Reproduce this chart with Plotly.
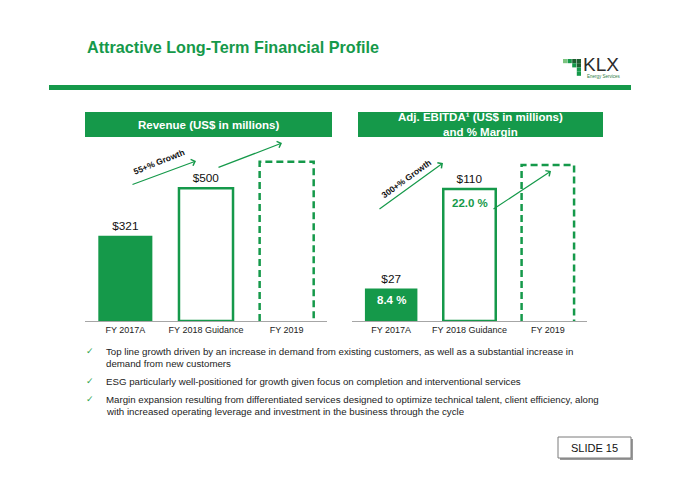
import plotly.graph_objects as go

# ---------------- data ----------------
categories = ["FY 2017A", "FY 2018 Guidance", "FY 2019"]
revenue = [321, 500]                 # US$ millions
revenue_2019_placeholder = 600       # height of dashed placeholder box
ebitda = [27, 110]                   # US$ millions
ebitda_2019_placeholder = 130        # height of dashed placeholder box
margin = [8.4, 22.0]                 # % margin
growth_labels = ["55+% Growth", "300+% Growth"]
bullets = [
    ["Top line growth driven by an increase in demand from existing customers, as well as a substantial increase in",
     "demand from new customers"],
    ["ESG particularly well-positioned for growth given focus on completion and interventional services"],
    ["Margin expansion resulting from differentiated services designed to optimize technical talent, client efficiency, along",
     "with increased operating leverage and investment in the business through the cycle"],
]

W, H = 680, 481
OFF = 8  # page body margin offset
GREEN = "#15994a"
DARK_GREEN = "#1d5e2f"
FONT = "Liberation Sans, Arial, sans-serif"


def px(x):
    return (x - OFF) / W


def py(y):
    return 1 - (y - OFF) / H


def note(x, y, text, size, color, xanchor="center", family=FONT, **kw):
    return dict(xref="paper", yref="paper", x=px(x), y=py(y), text=text, showarrow=False,
                xanchor=xanchor, yanchor="middle", font=dict(size=size, color=color, family=family), **kw)


fig = go.Figure()

bar_w = 0.67
xs = [0, 1]

# Revenue bars
fig.add_trace(go.Bar(
    x=xs, y=revenue, width=bar_w,
    marker=dict(color=[GREEN, "white"], line=dict(color=GREEN, width=[0, 2.5])),
    text=[f"${v}" for v in revenue], textposition="outside",
    textfont=dict(size=11.8, color="#111", family=FONT),
    cliponaxis=False, xaxis="x", yaxis="y", showlegend=False, hoverinfo="skip",
))
# EBITDA bars
fig.add_trace(go.Bar(
    x=xs, y=ebitda, width=bar_w,
    marker=dict(color=[GREEN, "white"], line=dict(color=GREEN, width=[0, 2.5])),
    text=[f"${v}" for v in ebitda], textposition="outside",
    textfont=dict(size=11.8, color="#111", family=FONT),
    cliponaxis=False, xaxis="x2", yaxis="y2", showlegend=False, hoverinfo="skip",
))

shapes = []
annotations = []

# dashed placeholder boxes for FY 2019 (no bottom edge)
for xref, yref, h in [("x", "y", revenue_2019_placeholder), ("x2", "y2", ebitda_2019_placeholder)]:
    x0, x1 = 2 - bar_w / 2, 2 + bar_w / 2
    shapes.append(dict(type="path", xref=xref, yref=yref,
                       path=f"M {x0},0 L {x0},{h} L {x1},{h} L {x1},0",
                       line=dict(color=GREEN, width=2.5, dash="7px,4px")))

# margin labels inside EBITDA bars
for i, m in enumerate(margin):
    annotations.append(dict(xref="x2", yref="y2", x=xs[i], y=ebitda[i], yshift=-11 if i == 0 else -14,
                            xanchor="center", yanchor="middle",
                            text=f"<b>{m:.1f} %</b>", showarrow=False,
                            font=dict(size=11.5, color="white" if i == 0 else GREEN, family=FONT)))

# header line
shapes.append(dict(type="rect", xref="paper", yref="paper", x0=px(49), x1=px(631), y0=py(90), y1=py(85),
                   fillcolor=GREEN, line=dict(width=0)))
# chart header boxes
shapes.append(dict(type="rect", xref="paper", yref="paper", x0=px(85), x1=px(332), y0=py(137), y1=py(112),
                   fillcolor=GREEN, line=dict(width=0)))
shapes.append(dict(type="rect", xref="paper", yref="paper", x0=px(358), x1=px(603), y0=py(137), y1=py(112),
                   fillcolor=GREEN, line=dict(width=0)))
annotations.append(note(208, 125, "<b>Revenue (US$ in millions)</b>", 11.5, "white"))
annotations.append(note(480, 125, "<b>Adj. EBITDA¹ (US$ in millions)<br>and % Margin</b>", 11.5, "white"))

# title
annotations.append(note(85, 47, "<b>Attractive Long-Term Financial Profile</b>", 16.2, GREEN, xanchor="left"))

# logo
logo_cells = [(0, 0, "#7cc47f"), (1, 0, GREEN), (2, 0, DARK_GREEN), (3, 0, DARK_GREEN),
              (2, 1, GREEN), (3, 1, DARK_GREEN), (3, 2, GREEN), (3, 3, GREEN)]
for c, r, col in logo_cells:
    shapes.append(dict(type="rect", xref="paper", yref="paper",
                       x0=px(563 + 4.6 * c), x1=px(567.2 + 4.6 * c), y0=py(63.2 + 4.2 * r), y1=py(59 + 4.2 * r),
                       fillcolor=col, line=dict(width=0)))
annotations.append(note(581, 64.5, "KLX", 19, "#2b2b2b", xanchor="left"))
annotations.append(note(585, 76, "Energy Services", 4.5, "#2e7d46", xanchor="left"))

# growth arrows (tail -> head, in page pixels)
arrows = [((131, 185), (196, 161)), ((217, 168), (282, 143)),
          ((378, 210), (443, 163)), ((492, 210), (551, 171))]
for (x0, y0), (x1, y1) in arrows:
    annotations.append(dict(xref="paper", yref="paper", axref="pixel", ayref="pixel",
                            x=px(x1), y=py(y1), ax=x0 - x1, ay=y0 - y1, text="",
                            showarrow=True, arrowhead=4, arrowsize=1.1, arrowwidth=1.2, arrowcolor=GREEN))
annotations.append(note(158.5, 162, f"<b>{growth_labels[0]}</b>", 8.5, "#111", textangle=-22))
annotations.append(note(406, 179, f"<b>{growth_labels[1]}</b>", 8.5, "#111", textangle=-36))

# bullets
bullet_y = [351, 381, 399]
for b, y0 in zip(bullets, bullet_y):
    annotations.append(note(90, y0, "✓", 9, "#2ea44f", family="DejaVu Sans"))
    for j, line in enumerate(b):
        annotations.append(note(104, y0 + 12 * j, line, 9.7, "#222", xanchor="left"))

# slide number box
shapes.append(dict(type="rect", xref="paper", yref="paper", x0=px(560), x1=px(633), y0=py(460), y1=py(439),
                   fillcolor="#9a9a9a", line=dict(width=0)))
shapes.append(dict(type="rect", xref="paper", yref="paper", x0=px(558), x1=px(631), y0=py(458), y1=py(437),
                   fillcolor="white", line=dict(color="#7a7a7a", width=1)))
annotations.append(note(594.5, 447.5, "SLIDE 15", 11, "#111"))

axis_common = dict(range=[-0.5, 2.5], tickvals=[0, 1, 2], ticktext=categories, showline=True,
                   linecolor="#a6a6a6", linewidth=1, showgrid=False, zeroline=False, ticks="",
                   tickfont=dict(size=9, color="#222", family=FONT), fixedrange=True)
y_dom = [py(321), py(141)]

fig.update_layout(
    width=W, height=H, autosize=False,
    margin=dict(l=0, r=0, t=0, b=0),
    paper_bgcolor="white", plot_bgcolor="white",
    xaxis=dict(domain=[px(85), px(327)], anchor="y", **axis_common),
    yaxis=dict(domain=y_dom, range=[0, 678], visible=False, fixedrange=True),
    xaxis2=dict(domain=[px(352), px(587)], anchor="y2", **axis_common),
    yaxis2=dict(domain=y_dom, range=[0, 150], visible=False, fixedrange=True),
    shapes=shapes, annotations=annotations, showlegend=False,
    bargap=0.3,
)

fig.write_html("out.html")
